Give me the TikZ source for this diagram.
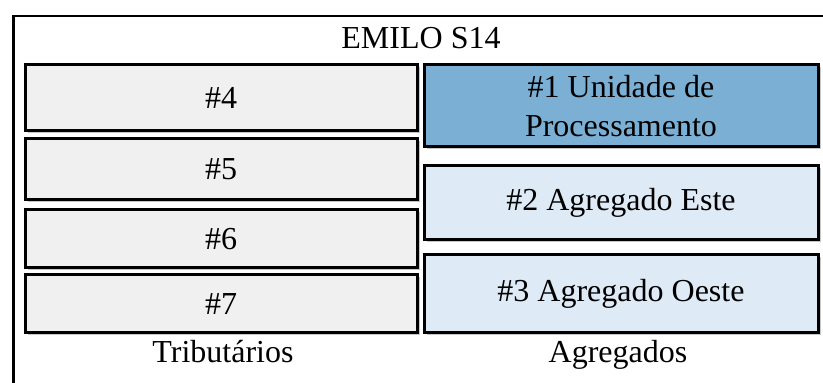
\documentclass[tikz,border=0pt]{standalone}
\usepackage{fontspec}
\setmainfont{Liberation Serif}
\usetikzlibrary{shadows}
\definecolor{trib}{HTML}{F0F0F0}
\definecolor{procfill}{HTML}{7BAFD4}
\definecolor{aggfill}{HTML}{DEEAF6}
\begin{document}
\begin{tikzpicture}[x=1pt,y=1pt,
  box/.style={draw=black, line width=3pt, rectangle, inner sep=0pt, align=center,
    font=\fontsize{32}{38.5}\selectfont,
    drop shadow={shadow xshift=2.5pt, shadow yshift=-2.5pt, fill=black!22, opacity=1}},
  tribbox/.style={box, fill=trib, minimum width=392pt},
  aggbox/.style={box, minimum width=394pt},
  label/.style={font=\fontsize{32}{38.5}\selectfont, inner sep=0pt, anchor=base}]
\useasboundingbox (0,0) rectangle (823,383);
\clip (0,0) rectangle (823,383);
% outer frame (extends past the right and bottom edges)
\node[draw=black, line width=2.5pt, rectangle, inner sep=0pt, anchor=north west,
  minimum width=840pt, minimum height=400pt] (frame) at (12,368) {};
\node[label] (title) at (421,334) {EMILO S14};
% tributaries
\node[tribbox, minimum height=66pt] (n4) at (221,285) {\#4};
\node[tribbox, minimum height=61pt] (n5) at (221,213.5) {\#5};
\node[tribbox, minimum height=58pt] (n6) at (221,144) {\#6};
\node[tribbox, minimum height=58pt] (n7) at (221,79) {\#7};
% aggregates
\node[aggbox, fill=procfill, minimum height=82pt] (n1) at (621,277) {\#1 Unidade de\\Processamento};
\node[aggbox, fill=aggfill, minimum height=74pt] (n2) at (621,180) {\#2 Agregado Este};
\node[aggbox, fill=aggfill, minimum height=78pt] (n3) at (621,89) {\#3 Agregado Oeste};
\node[label] (trib) at (223,20) {Tributários};
\node[label] (agg) at (618,20) {Agregados};
\end{tikzpicture}
\end{document}
